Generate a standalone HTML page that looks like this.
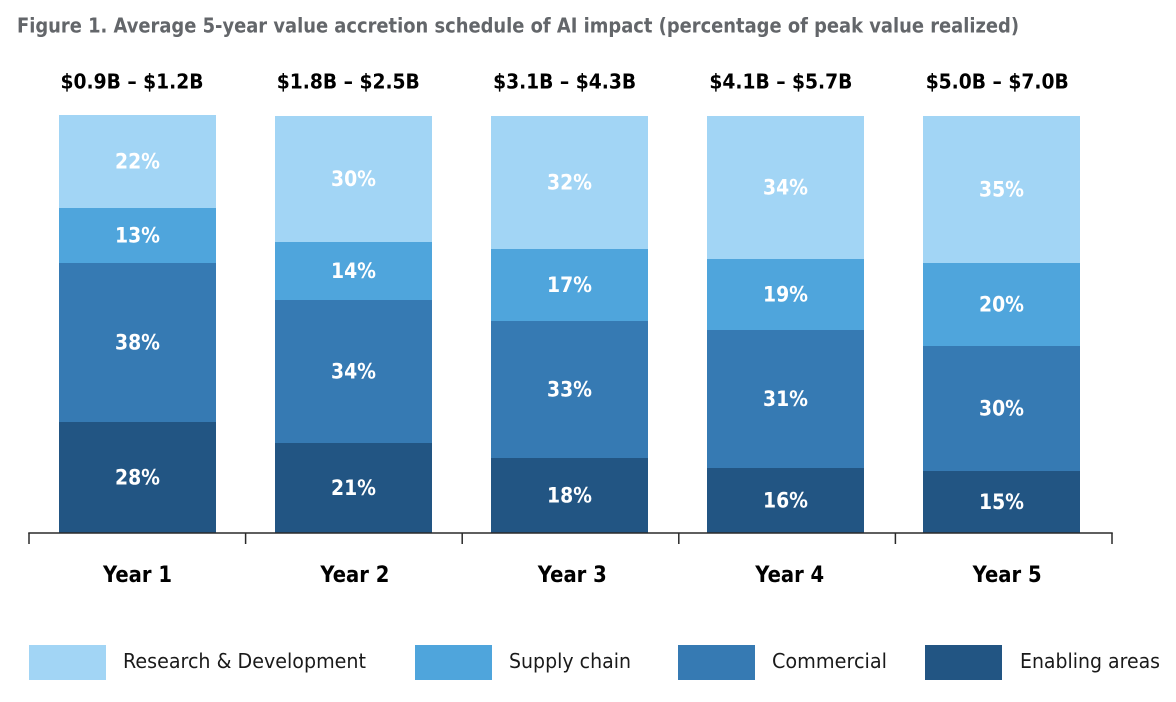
<!DOCTYPE html>
<html>
<head>
<meta charset="utf-8">
<title>Average 5-year value accretion schedule of AI impact</title>
<style>
html,body{margin:0;padding:0;background:#fff;}
svg{display:block;font-family:"DejaVu Sans","Liberation Sans",sans-serif;}
</style>
</head>
<body>
<svg id="chart" xmlns="http://www.w3.org/2000/svg" width="1176" height="702" viewBox="0 0 1176 702">
  <rect x="0" y="0" width="1176" height="702" fill="#ffffff"/>
  <text x="17" y="32.5" font-size="20" font-weight="700" fill="#63666a" textLength="1002" lengthAdjust="spacingAndGlyphs">Figure 1. Average 5-year value accretion schedule of AI impact (percentage of peak value realized)</text>
  <g id="bars"></g>
  <g id="axis"></g>
  <g font-size="20.5" fill="#1a1a1a">
    <rect x="29" y="645" width="77" height="35" fill="#a2d5f5"/>
    <text x="123" y="668" textLength="243" lengthAdjust="spacingAndGlyphs">Research &amp; Development</text>
    <rect x="415" y="645" width="77" height="35" fill="#4fa5dc"/>
    <text x="509" y="668" textLength="122" lengthAdjust="spacingAndGlyphs">Supply chain</text>
    <rect x="678" y="645" width="77" height="35" fill="#367ab3"/>
    <text x="772" y="668" textLength="115" lengthAdjust="spacingAndGlyphs">Commercial</text>
    <rect x="925" y="645" width="77" height="35" fill="#225583"/>
    <text x="1020" y="668" textLength="140" lengthAdjust="spacingAndGlyphs">Enabling areas</text>
  </g>
</svg>
<script>
// Chart data
const categories = ["Year 1", "Year 2", "Year 3", "Year 4", "Year 5"];
const rangeLabels = ["$0.9B – $1.2B", "$1.8B – $2.5B", "$3.1B – $4.3B", "$4.1B – $5.7B", "$5.0B – $7.0B"];
// Segment shares as drawn (percent of column)
const enablingAreas = [26.6, 21.6, 18.0, 15.6, 14.9];
const commercial = [38.1, 34.3, 32.9, 33.1, 30.0];
const supplyChain = [13.2, 13.9, 17.3, 17.0, 19.9];
const researchDevelopment = [22.3, 30.2, 31.8, 34.3, 35.2];
// Percentages as printed on the bars
const enablingAreasLabels = ["28%", "21%", "18%", "16%", "15%"];
const commercialLabels = ["38%", "34%", "33%", "31%", "30%"];
const supplyChainLabels = ["13%", "14%", "17%", "19%", "20%"];
const researchDevelopmentLabels = ["22%", "30%", "32%", "34%", "35%"];

const NS = "http://www.w3.org/2000/svg";
const BASELINE = 533;
const AXIS_LEFT = 29;
const AXIS_RIGHT = 1112;
const series = [
  { key: "enabling-areas", values: enablingAreas, labels: enablingAreasLabels, color: "#225583" },
  { key: "commercial", values: commercial, labels: commercialLabels, color: "#367ab3" },
  { key: "supply-chain", values: supplyChain, labels: supplyChainLabels, color: "#4fa5dc" },
  { key: "research-development", values: researchDevelopment, labels: researchDevelopmentLabels, color: "#a2d5f5" }
];

function yScale(v) { return Math.round(BASELINE - v * 4.17); }
function barLeft(i) { return 59 + i * 216; }
function tickX(i) { return AXIS_LEFT + i * (AXIS_RIGHT - AXIS_LEFT) / categories.length; }

function make(tag, attrs, parent, txt) {
  const el = document.createElementNS(NS, tag);
  for (const k in attrs) el.setAttribute(k, attrs[k]);
  if (txt !== undefined) el.textContent = txt;
  parent.appendChild(el);
  return el;
}

const barsGroup = document.getElementById("bars");
const axisGroup = document.getElementById("axis");
const BAR_W = 157;

categories.forEach(function (cat, i) {
  const x = barLeft(i);
  let acc = 0;
  series.forEach(function (s) {
    const y1 = yScale(acc);
    const y2 = yScale(acc + s.values[i]);
    acc += s.values[i];
    const r = make("rect", { x: x, y: y2, width: BAR_W, height: y1 - y2, fill: s.color, "shape-rendering": "crispEdges" }, barsGroup);
    
    
    r.setAttribute('data-series', s.key);
    const t = make("text", {
      x: x + BAR_W / 2, y: (y1 + y2) / 2 + 7, "text-anchor": "middle", "font-size": 21, "font-weight": 700,
      fill: "#ffffff", textLength: 45, lengthAdjust: "spacingAndGlyphs"
    }, barsGroup, s.labels[i]);
    
    
  });
  const rl = make("text", {
    x: 132 + i * 216.3, y: 88.5, "text-anchor": "middle", "font-size": 20, "font-weight": 700,
    fill: "#000000", textLength: 143, lengthAdjust: "spacingAndGlyphs"
  }, barsGroup, rangeLabels[i]);
  
  
  const cl = make("text", {
    x: 137.5 + i * 217.4, y: 582, "text-anchor": "middle", "font-size": 22, "font-weight": 700,
    fill: "#000000", textLength: 69, lengthAdjust: "spacingAndGlyphs"
  }, axisGroup, cat);
  
  
});

const axisLine = make("line", { x1: AXIS_LEFT - 0.75, x2: AXIS_RIGHT + 0.75, y1: BASELINE, y2: BASELINE, stroke: "#2a2a2a", "stroke-width": 1.5 }, axisGroup);


for (let i = 0; i <= categories.length; i++) {
  const tick = make("line", { x1: tickX(i), x2: tickX(i), y1: BASELINE, y2: 544, stroke: "#2a2a2a", "stroke-width": 1.5 }, axisGroup);
  
  
}
</script>
</body>
</html>
